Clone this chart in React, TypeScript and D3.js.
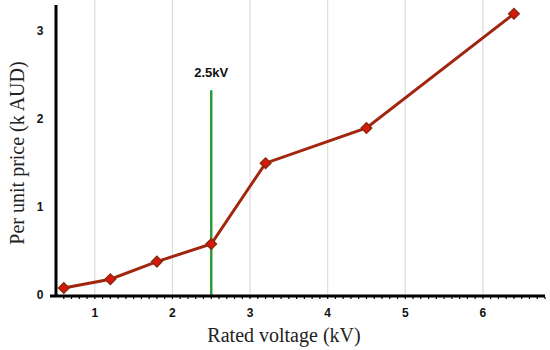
import * as d3 from "d3";

const voltage = [0.6, 1.2, 1.8, 2.5, 3.2, 4.5, 6.4];
const price = [0.08, 0.18, 0.38, 0.58, 1.5, 1.9, 3.2];
const xTicks = [1, 2, 3, 4, 5, 6];
const yTicks = [0, 1, 2, 3];
const markerLine = 2.5;
const markerLabel = "2.5kV";

const W = 550,
  H = 350;

export default function App() {
  const x = d3.scaleLinear().domain([0.5, 6.8]).range([56, 545]);
  const y = d3.scaleLinear().domain([0, 3.3]).range([295, 5]);
  const minor = d3.range(6, 69).map((d) => d / 10);

  const line = d3
    .line<number>()
    .x((_, i) => x(voltage[i]))
    .y((d) => y(d));

  // square turned 45deg, wider than d3's diamond
  const diamond = d3.symbol().type(d3.symbolSquare).size(55)();

  return (
    <svg
      width={W}
      height={H}
      style={{ position: "absolute", left: 0, top: 0, background: "#fff" }}
    >
      {/* vertical gridlines */}
      {xTicks.map((t) => (
        <line
          key={"g" + t}
          x1={x(t)}
          x2={x(t)}
          y1={0}
          y2={y(0)}
          stroke="#dcdcdc"
          strokeWidth={1.2}
        />
      ))}

      {/* 2.5 kV marker */}
      <line
        x1={x(markerLine)}
        x2={x(markerLine)}
        y1={y(2.33)}
        y2={y(0)}
        stroke="#2e9a3a"
        strokeWidth={2.5}
      />
      <text
        x={x(markerLine)}
        y={y(2.48)}
        textAnchor="middle"
        fontFamily="Arial, Liberation Sans, sans-serif"
        fontWeight="bold"
        fontSize={13}
        fill="#111"
      >
        {markerLabel}
      </text>

      {/* axes */}
      <line x1={56} x2={56} y1={5} y2={y(0) + 1} stroke="#000" strokeWidth={3} />
      <line x1={50} x2={545} y1={y(0) + 1} y2={y(0) + 1} stroke="#000" strokeWidth={3} />
      {minor.map((t) => (
        <line
          key={"m" + t}
          x1={x(t)}
          x2={x(t)}
          y1={y(0) + 2}
          y2={y(0) + 4}
          stroke="#000"
          strokeWidth={1.2}
        />
      ))}
      {xTicks.map((t) => (
        <text
          key={"xl" + t}
          x={x(t)}
          y={317}
          textAnchor="middle"
          fontFamily="Arial, Liberation Sans, sans-serif"
          fontWeight="bold"
          fontSize={12}
          fill="#111"
        >
          {t}
        </text>
      ))}
      {yTicks.map((t) => (
        <text
          key={"yl" + t}
          x={40}
          y={y(t) + 4}
          textAnchor="middle"
          fontFamily="Arial, Liberation Sans, sans-serif"
          fontWeight="bold"
          fontSize={12}
          fill="#111"
        >
          {t}
        </text>
      ))}

      {/* axis titles */}
      <text
        x={284}
        y={342}
        textAnchor="middle"
        fontFamily="Liberation Serif, Times New Roman, serif"
        fontSize={20}
        fill="#222"
      >
        Rated voltage (kV)
      </text>
      <text
        transform="translate(24,153) rotate(-90)"
        textAnchor="middle"
        fontFamily="Liberation Serif, Times New Roman, serif"
        fontSize={20}
        fill="#222"
      >
        Per unit price (k AUD)
      </text>

      {/* series */}
      <path d={line(price) || ""} fill="none" stroke="#a2260f" strokeWidth={3} />
      {price.map((p, i) => (
        <path
          key={"p" + i}
          d={diamond || ""}
          transform={`translate(${x(voltage[i])},${y(p)}) rotate(45)`}
          fill="#d8180c"
          stroke="#8c2a0c"
          strokeWidth={1.5}
        />
      ))}
    </svg>
  );
}
